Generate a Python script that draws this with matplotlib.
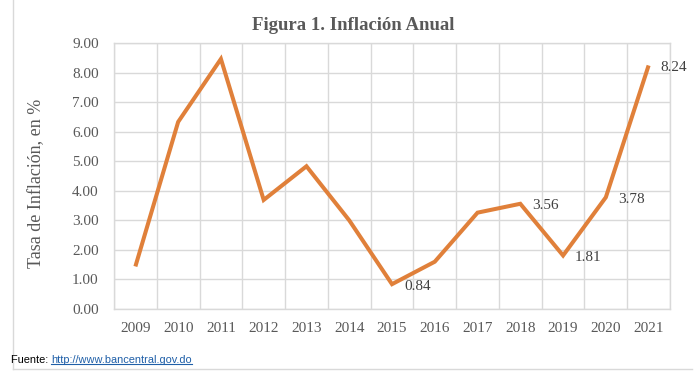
import matplotlib
matplotlib.use("Agg")
import matplotlib.pyplot as plt
from matplotlib import font_manager
from matplotlib.lines import Line2D

years = ["2009", "2010", "2011", "2012", "2013", "2014", "2015",
         "2016", "2017", "2018", "2019", "2020", "2021"]
inflation = [1.44, 6.33, 8.46, 3.69, 4.83, 3.00, 0.84,
             1.60, 3.26, 3.56, 1.81, 3.78, 8.24]
labeled_years = ["2015", "2018", "2019", "2020", "2021"]
yticks = [0, 1, 2, 3, 4, 5, 6, 7, 8, 9]

title = "Figura 1. Inflación Anual"
ylabel = "Tasa de Inflación, en %"
source_prefix = "Fuente: "
source_link = "http://www.bancentral.gov.do"

serif = ["Liberation Serif", "DejaVu Serif"]
footer_fp = font_manager.FontProperties(family=["Liberation Sans", "DejaVu Sans"], size=7.9)

W, H = 696, 375
fig = plt.figure(figsize=(W / 100, H / 100), dpi=100)
ax = fig.add_axes([114 / W, 1 - 309 / H, (670 - 114) / W, (309 - 43) / H])

x = list(range(len(years)))
line_color = "#E0803A"
grid_color = "#D9D9D9"
text_color = "#595959"

ax.plot(x, inflation, color=line_color, linewidth=2.9, solid_joinstyle="miter",
        solid_capstyle="butt", zorder=3)

ax.set_xlim(-0.5, len(years) - 0.5)
ax.set_ylim(0, 9)
ax.set_yticks(yticks)
ax.set_yticklabels([f"{v:.2f}" for v in yticks])
ax.set_xticks(x)
ax.set_xticklabels(years)
ax.set_xticks([i - 0.5 for i in range(len(years) + 1)], minor=True)

ax.grid(True, axis="y", which="major", color=grid_color, linewidth=1)
ax.grid(True, axis="x", which="minor", color=grid_color, linewidth=1)
ax.set_axisbelow(True)
for s in ax.spines.values():
    s.set_color(grid_color)
    s.set_linewidth(1)

ax.tick_params(axis="both", which="both", length=0, colors=text_color)
ax.tick_params(axis="y", pad=11)
ax.tick_params(axis="x", pad=9)
for lab in ax.get_xticklabels() + ax.get_yticklabels():
    lab.set_family(serif)
    lab.set_fontsize(11)
    lab.set_color(text_color)

for yr, v in zip(years, inflation):
    if yr in labeled_years:
        i = years.index(yr)
        ax.annotate(f"{v:.2f}", (i, v), xytext=(12, -2), textcoords="offset pixels",
                    ha="left", va="center", fontsize=11, family=serif, color="#404040")

fig.text(353 / W, 1 - 25 / H, title, ha="center", va="center", fontsize=13.5,
         fontweight="bold", family=serif, color="#595959")
fig.text(37 / W, 1 - 183 / H, ylabel, ha="center", va="center", rotation=90,
         fontsize=13, family=serif, color="#595959")

# chart area border (left and bottom visible)
fig.add_artist(Line2D([13 / W, 13 / W], [1 - 369 / H, 1.0], color="#D9D9D9", linewidth=1))
fig.add_artist(Line2D([13 / W, 692 / W], [1 - 369 / H, 1 - 369 / H], color="#D9D9D9", linewidth=1))

t1 = fig.text(11 / W, 1 - 360 / H, source_prefix, ha="left", va="center",
              fontproperties=footer_fp, color="black")
fig.canvas.draw()
r = fig.canvas.get_renderer()
bb = t1.get_window_extent(r)
t2 = fig.text(bb.x1 / W, 1 - 360 / H, source_link, ha="left", va="center",
              fontproperties=footer_fp, color="#1F5FA8")
fig.canvas.draw()
bb2 = t2.get_window_extent(r)
uy = (bb2.y0 + 1) / H
fig.add_artist(Line2D([bb2.x0 / W, bb2.x1 / W], [uy, uy], color="#1F5FA8", linewidth=0.8))

fig.savefig("out.png", dpi=100)
